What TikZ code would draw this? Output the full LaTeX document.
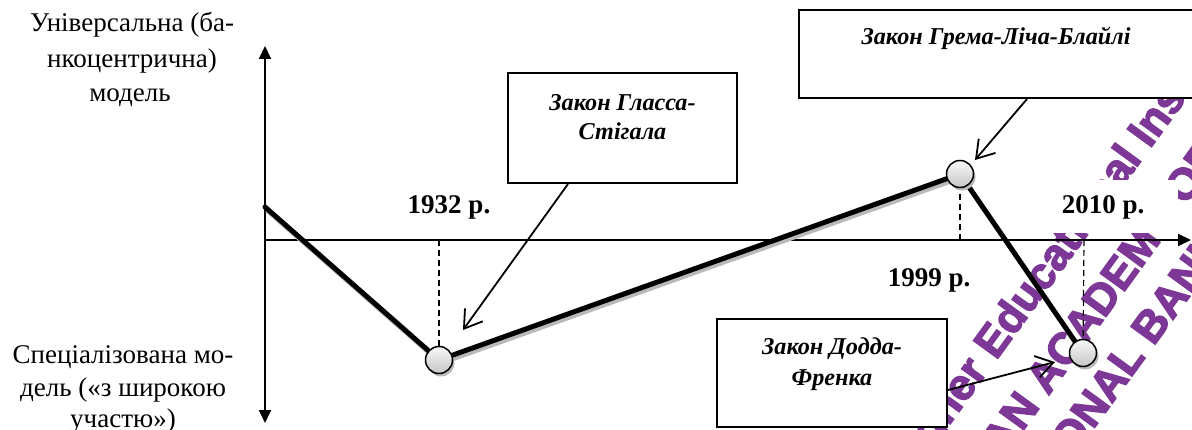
\documentclass[tikz,border=0pt]{standalone}
\usepackage{fontspec}
\setmainfont{Liberation Serif}
\newfontfamily\wmfont[FakeBold=3]{Liberation Sans Bold}
\usetikzlibrary{arrows.meta}
\definecolor{wmpurple}{RGB}{125,55,150}
\tikzset{
  axis/.style={line width=2pt},
  curve/.style={line width=5pt, line join=round, line cap=round},
  curveshadow/.style={line width=5pt, draw=gray!55, line join=round},
  dot/.style={circle, draw=black, line width=1.5pt, minimum size=27pt, inner sep=0pt, top color=gray!5, bottom color=gray!45},
  dotshadow/.style={circle, fill=gray!55, minimum size=27pt, inner sep=0pt},
  lawbox/.style={draw=black, line width=2pt, fill=white, inner sep=0pt},
  lawtext/.style={font=\fontsize{24.2}{29}\selectfont\bfseries\itshape, anchor=base, inner sep=0pt},
  yeartext/.style={font=\fontsize{27}{32}\selectfont\bfseries, inner sep=0pt},
  side/.style={font=\fontsize{27}{32}\selectfont, anchor=base, inner sep=0pt},
  conn/.style={line width=1.8pt, -{Straight Barb[length=17pt,width=22pt,line width=1.8pt]}},
  guide/.style={line width=1.2pt, dash pattern=on 6pt off 4pt},
  wm/.style={font=\fontsize{44}{44}\selectfont\wmfont, text=wmpurple, inner sep=0pt},
}
\begin{document}
\begin{tikzpicture}[x=1pt,y=-1pt]
\useasboundingbox (0,0) rectangle (1192,430);
\clip (0,0) rectangle (1192,430);
% watermark
\begin{scope}[shift={(996,361)}, rotate=54, transform shape]
  \node[wm, anchor=base east] (w1a) at (0,0) {Higher\kern0.28em};
  \node[wm, anchor=base west] (w1b) at (0,0) {Educational Institution};
  \node[wm, anchor=base east] (w2a) at (2,63) {UKRAINIAN\kern0.28em};
  \node[wm, anchor=base west] (w2b) at (2,63) {ACADEMY OF BANKING};
  \node[wm, anchor=base east] (w3a) at (104,119) {OF THE NATIONAL\kern0.28em};
  \node[wm, anchor=base west] (w3b) at (104,119) {BANK OF UKRAINE};
\end{scope}
% axes
\coordinate (vtop) at (265,46);
\coordinate (vbot) at (265,423);
\coordinate (hleft) at (265,240);
\coordinate (hright) at (1191,240);
\draw[axis, {Triangle[length=13pt,width=12pt]}-{Triangle[length=13pt,width=12pt]}] (vtop) -- (vbot);
\draw[axis, -{Triangle[length=13pt,width=12pt]}] (hleft) -- (hright);
% curve points
\coordinate (p0) at (265,207);
\coordinate (p1) at (439,360);
\coordinate (p2) at (960,174);
\coordinate (p3) at (1083,353);
% guides
\draw[guide] (p1 |- hleft) -- (p1);
\draw[guide] (p2) -- (p2 |- hleft);
\draw[guide] (1084,240) -- (p3);
% curve with shadow
\draw[curveshadow] ([shift={(2,3)}]p0) -- ([shift={(2,3)}]p1) -- ([shift={(2,3)}]p2) -- ([shift={(2,3)}]p3);
\draw[curve] (p0) -- (p1) -- (p2) -- (p3);
% dots
\node[dotshadow] (s1) at ([shift={(2,3)}]p1) {};
\node[dotshadow] (s2) at ([shift={(2,3)}]p2) {};
\node[dotshadow] (s3) at ([shift={(2,3)}]p3) {};
\node[dot] (d1) at (p1) {};
\node[dot] (d2) at (p2) {};
\node[dot] (d3) at (p3) {};
% boxes
\node[lawbox, minimum width=229pt, minimum height=110pt] (glass) at (622.5,128) {};
\node[lawtext] (glass1) at (622.5,111) {Закон Гласса-};
\node[lawtext] (glass2) at (622.5,140) {Стігала};
\node[lawbox, minimum width=401pt, minimum height=88pt] (grem) at (999.5,54) {};
\node[lawtext] (grem1) at (996,45) {Закон Грема-Ліча-Блайлі};
\node[lawbox, minimum width=230pt, minimum height=108pt] (dodd) at (832,373) {};
\node[lawtext] (dodd1) at (832,355) {Закон Додда-};
\node[lawtext] (dodd2) at (832,385) {Френка};
% years
\node[yeartext] (y1932) at (449,207) {1932 р.};
\node[yeartext] (y1999) at (929,280) {1999 р.};
\fill[white] (1045,180) rectangle (1178,233);
\node[yeartext] (y2010) at (1103,207) {2010 р.};
% side labels
\node[side] (u1) at (132,32) {Універсальна (ба-};
\node[side] (u2) at (132,68) {нкоцентрична)};
\node[side] (u3) at (130,102) {модель};
\node[side] (s1t) at (123,363) {Спеціалізована мо-};
\node[side] (s2t) at (123,396) {дель («з широкою};
\node[side] (s3t) at (123,428) {участю»)};
% connectors
\draw[conn] ([xshift=-54.5pt]glass.south) -- ([shift={(24,-30)}]d1.center);
\draw[conn] ([xshift=27.5pt]grem.south) -- ([shift={(15,-14)}]d2.center);
\draw[conn] ([yshift=-17pt]dodd.east) -- ([shift={(-28,9)}]d3.center);
\end{tikzpicture}
\end{document}
